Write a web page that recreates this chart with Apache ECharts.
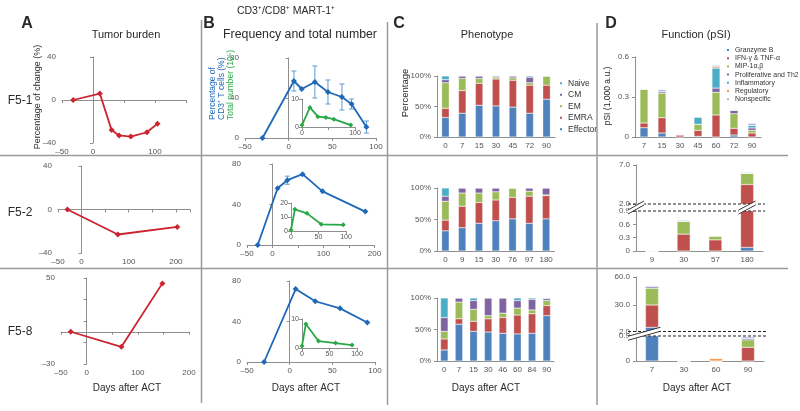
<!DOCTYPE html>
<html>
<head>
<meta charset="utf-8">
<script src="https://cdn.jsdelivr.net/npm/echarts@6.0.0/dist/echarts.min.js"></script>
<style>
html,body{margin:0;padding:0;background:#fff;}
#chart{width:800px;height:411px;}
</style>
</head>
<body>
<div id="chart"></div>
<script>
// ================= DATA =================
// A: tumor burden (% change) vs days after ACT
const a1Days = [-32, 11, 30, 42, 61, 87, 104];
const a1Change = [0, 6, -28, -33, -34, -30, -22];
const a2Days = [-30, 77, 203];
const a2Change = [0, -23, -16];
const a3Days = [-31, 68, 148];
const a3Change = [0, -14, 45];
const aXLabels = [-50, 0, 100, 200];
const a3YLabels = [-30, 50];

// B: frequency (% of CD3+ T cells) and inset total number
const b1Days = [-30, 6, 15, 30, 45, 61, 72, 89];
const b1Freq = [0, 57, 49, 56, 46, 41, 34, 11];
const b1Err = [0, 10, 0, 16, 12, 13, 5, 6];
const b1InDays = [0, 15, 30, 45, 60, 92];
const b1Total = [0.7, 7.0, 3.7, 3.4, 2.8, 0.7];

const b2Days = [-29, 10, 29, 59, 98, 182];
const b2Freq = [0, 56, 64, 70, 53, 33];
const b2Err = [0, 0, 4, 0, 0, 0];
const b2InDays = [0, 7, 29, 55, 95];
const b2Total = [0.7, 15.5, 12.6, 4.8, 4.4];

const b3Days = [-30, 7, 30, 59, 91];
const b3Freq = [0, 72, 60, 53, 39];
const b3Err = [0, 0, 0, 0, 0];
const b3InDays = [0, 7, 30, 61, 91];
const b3Total = [0.7, 8.3, 2.4, 1.7, 1.0];

// C: phenotype (%), stacked
const cNames = ['Effector', 'EMRA', 'EM', 'CM', 'Naive'];
const c1Days = ['0', '7', '15', '30', '45', '72', '90'];
const c1Effector = [32, 39, 52, 51, 49, 39, 62];
const c1EMRA = [15, 37, 36, 44, 44, 46, 23];
const c1EM = [42, 20, 8, 3, 4, 4, 15];
const c1CM = [5, 4, 4, 2, 3, 9, 0];
const c1Naive = [6, 0, 0, 0, 0, 2, 0];

const c2Days = ['0', '9', '15', '30', '76', '97', '180'];
const c2Effector = [32, 37, 44, 48, 51, 44, 51];
const c2EMRA = [17, 34, 33, 33, 34, 43, 37];
const c2EM = [30, 21, 15, 13, 15, 8, 1];
const c2CM = [8, 8, 8, 6, 0, 5, 11];
const c2Naive = [13, 0, 0, 0, 0, 0, 0];

const c3Days = ['0', '7', '15', '30', '46', '60', '84', '90'];
const c3Effector = [17.5, 58.5, 47, 46, 44, 43, 44, 72];
const c3EMRA = [17.5, 8.5, 16, 21, 25, 30, 31, 16];
const c3EM = [12, 26.5, 19, 5, 7, 11, 6, 8];
const c3CM = [22, 6.5, 14, 28, 24, 12, 17, 3];
const c3Naive = [31, 0, 4, 0, 0, 4, 2, 1];

// D: function (pSI, 1,000 a.u.), stacked
const dNames = ['Granzyme B', 'IFN-\u03b3 & TNF-\u03b1', 'MIP-1\u03b1,\u03b2', 'Proliferative and Th2', 'Inflammatory', 'Regulatory', 'Nonspecific'];
const d1Days = ['7', '15', '30', '45', '60', '72', '90'];
const d1Granzyme = [0.07, 0.03, 0, 0.005, 0, 0.015, 0];
const d1IFN = [0.035, 0.115, 0.014, 0.045, 0.165, 0.05, 0.03];
const d1MIP = [0.255, 0.183, 0.006, 0.045, 0.17, 0.11, 0.02];
const d1Prolif = [0, 0.012, 0, 0, 0.032, 0.025, 0.018];
const d1Inflam = [0, 0, 0, 0.055, 0.15, 0, 0.02];
const d1Regul = [0, 0, 0, 0, 0.01, 0, 0];
const d1Nonspec = [0, 0.015, 0.003, 0, 0.01, 0.005, 0.015];

const d2Days = ['9', '30', '57', '180'];
const d2Granzyme = [0, 0, 0, 0.08];
const d2IFN = [0, 0.38, 0.25, 4.42];
const d2MIP = [0, 0.29, 0.09, 1.45];
const d2Prolif = [0, 0, 0, 0];
const d2Inflam = [0, 0, 0, 0];
const d2Regul = [0, 0, 0, 0];
const d2Nonspec = [0, 0.02, 0, 0.1];

const d3Days = ['7', '30', '60', '90'];
const d3Granzyme = [6.5, 0, 0, 0];
const d3IFN = [23.7, 0, 0, 0.49];
const d3MIP = [17.8, 0, 0, 0.27];
const d3Prolif = [1.7, 0, 0, 0.05];
const d3Inflam = [0, 0, 0, 0];
const d3Regul = [0, 0, 0.09, 0];
const d3Nonspec = [1.0, 0, 0, 0.06];
const d2UpperTicks = [2, 7];
const d3UpperTicks = [2, 30, 60];
const dLowerMax = 0.9;

// ================= STYLE =================
const FONT = '"Liberation Sans", Arial, Helvetica, sans-serif';
const AX = '#8f8f8f', LAB = '#555555', TXT = '#2a2a2a';
const RED = '#cc2330', BLUE = '#1f68b8', GREEN = '#2aa847', ERR = '#5b9bd5';
const cColors = {Effector: '#4f81bd', EMRA: '#c0504d', EM: '#9bbb59', CM: '#8064a2', Naive: '#4bacc6'};
const dColors = ['#4f81bd', '#c0504d', '#9bbb59', '#8064a2', '#4bacc6', '#f79646', '#aab4e0'];

const dash = v => String(v).replace('-', '\u2013');
const dFmt = v => (Math.abs(v) < 1e-9 ? '0' : (Math.round(v * 10) / 10).toFixed(1));

const grids = [
  {left: 62, top: 57, width: 124, height: 86},     // 0 A1
  {left: 58, top: 166, width: 132, height: 87},    // 1 A2
  {left: 61, top: 278, width: 128, height: 86},    // 2 A3
  {left: 245, top: 58, width: 131, height: 80},    // 3 B1
  {left: 302, top: 99, width: 53, height: 28},     // 4 B1 inset
  {left: 247, top: 164, width: 127.5, height: 81}, // 5 B2
  {left: 291, top: 203, width: 55, height: 28},    // 6 B2 inset
  {left: 247, top: 281, width: 128, height: 81},   // 7 B3
  {left: 302, top: 319, width: 55, height: 29},    // 8 B3 inset
  {left: 437, top: 76, width: 118, height: 61},    // 9 C1
  {left: 437, top: 188, width: 117.5, height: 63}, // 10 C2
  {left: 437, top: 298, width: 117, height: 63},   // 11 C3
  {left: 635, top: 57, width: 126, height: 80},    // 12 D1
  {left: 636, top: 211, width: 127, height: 40},   // 13 D2 lower
  {left: 636, top: 165, width: 127, height: 39},   // 14 D2 upper
  {left: 636, top: 336, width: 128, height: 25},   // 15 D3 lower
  {left: 636, top: 277, width: 128, height: 54.5}  // 16 D3 upper
];

function valAxis(gi, min, max, interval, o) {
  o = o || {};
  const ax = {
    type: 'value', gridIndex: gi, min: min, max: max,
    axisLine: {show: true, onZero: true, lineStyle: {color: AX, width: 1}},
    axisTick: {show: true, length: 3, lineStyle: {color: AX}},
    splitLine: {show: false},
    axisLabel: {fontSize: o.fs || 8, color: LAB, margin: o.margin || 4, fontFamily: FONT,
      showMinLabel: true, showMaxLabel: true, formatter: o.fmt || dash}
  };
  if (interval != null) ax.interval = interval;
  if (o.custom) { ax.axisLabel.customValues = o.custom; ax.axisTick.customValues = o.custom; }
  return ax;
}
function catAxis(gi, data, show) {
  return {
    type: 'category', gridIndex: gi, data: data, show: show !== false,
    axisLine: {lineStyle: {color: AX, width: 1}},
    axisTick: {length: 3, lineStyle: {color: AX}},
    axisLabel: {fontSize: 8, color: LAB, margin: 5, interval: 0, fontFamily: FONT}
  };
}
const inFmt1 = v => (v === 50 ? '' : String(v));
const aFmt = v => (aXLabels.indexOf(v) >= 0 ? dash(v) : '');

const xAxis = [
  valAxis(0, -50, 150, 50, {fmt: aFmt, margin: 5}),
  valAxis(1, -50, 230, 50, {fmt: aFmt, margin: 5}),
  valAxis(2, -50, 200, 50, {fmt: aFmt, margin: 5}),
  valAxis(3, -50, 100, 50, {margin: 5}),
  valAxis(4, 0, 100, 50, {fs: 7, margin: 3, fmt: inFmt1}),
  valAxis(5, -50, 200, 50, {fmt: aFmt, margin: 5}),
  valAxis(6, 0, 100, 50, {fs: 7, margin: 3}),
  valAxis(7, -50, 100, 50, {margin: 5}),
  valAxis(8, 0, 100, 50, {fs: 7, margin: 3}),
  catAxis(9, c1Days), catAxis(10, c2Days), catAxis(11, c3Days),
  catAxis(12, d1Days), catAxis(13, d2Days), catAxis(14, d2Days, false),
  catAxis(15, d3Days), catAxis(16, d3Days, false)
];
const pct = v => v + '%';
const yAxis = [
  valAxis(0, -40, 40, 40, {margin: 6}),
  valAxis(1, -40, 40, 40, {margin: 6}),
  valAxis(2, -30, 50, 20, {margin: 6, fmt: v => (a3YLabels.indexOf(v) >= 0 ? dash(v) : '')}),
  valAxis(3, 0, 80, 40, {margin: 6}),
  valAxis(4, 0, 10, 10, {fs: 7, margin: 3}),
  valAxis(5, 0, 80, 40, {margin: 6}),
  valAxis(6, 0, 20, 10, {fs: 7, margin: 3}),
  valAxis(7, 0, 80, 40, {margin: 6}),
  valAxis(8, 0, 10, 10, {fs: 7, margin: 3}),
  valAxis(9, 0, 100, 50, {fmt: pct, margin: 6}),
  valAxis(10, 0, 100, 50, {fmt: pct, margin: 6}),
  valAxis(11, 0, 100, 50, {fmt: pct, margin: 6}),
  valAxis(12, 0, 0.6, 0.3, {fmt: dFmt, margin: 6}),
  valAxis(13, 0, dLowerMax, 0.3, {fmt: dFmt, margin: 6}),
  valAxis(14, 2, 7, null, {fmt: v => v.toFixed(1), margin: 6, custom: d2UpperTicks}),
  valAxis(15, 0, dLowerMax, null, {fmt: dFmt, margin: 6, custom: [0, dLowerMax]}),
  valAxis(16, 2, 60, null, {fmt: v => v.toFixed(1), margin: 6, custom: d3UpperTicks})
];

const zip = (a, b) => a.map((d, k) => [d, b[k]]);
function lineSeries(gi, xs, ys, color, size) {
  return {type: 'line', xAxisIndex: gi, yAxisIndex: gi, data: zip(xs, ys), color: color,
    symbol: 'diamond', symbolSize: size || 6, showSymbol: true,
    lineStyle: {color: color, width: 1.8}, itemStyle: {color: color}, z: 3, silent: true};
}
function errSeries(gi, xs, ys, es) {
  return {type: 'custom', xAxisIndex: gi, yAxisIndex: gi, z: 2, silent: true,
    data: xs.map((d, k) => [d, ys[k], es[k]]),
    encode: {x: 0, y: 1},
    renderItem: function (params, api) {
      const e = api.value(2);
      if (!e) return null;
      const x = api.value(0), y = api.value(1);
      const hi = api.coord([x, y + e]), lo = api.coord([x, y - e]);
      const w = 2.5, st = {stroke: ERR, lineWidth: 1};
      return {type: 'group', children: [
        {type: 'line', shape: {x1: hi[0], y1: hi[1], x2: lo[0], y2: lo[1]}, style: st},
        {type: 'line', shape: {x1: hi[0] - w, y1: hi[1], x2: hi[0] + w, y2: hi[1]}, style: st},
        {type: 'line', shape: {x1: lo[0] - w, y1: lo[1], x2: lo[0] + w, y2: lo[1]}, style: st}
      ]};
    }};
}
function cStack(gi, arrs, stack) {
  return arrs.map((arr, k) => ({type: 'bar', name: cNames[k], xAxisIndex: gi, yAxisIndex: gi, stack: stack,
    data: arr, barWidth: 7.5, silent: true,
    itemStyle: {color: cColors[cNames[k]], borderColor: '#fff', borderWidth: 0.35}}));
}
function dStack(gi, arrs, stack, bw) {
  return arrs.map((arr, k) => ({type: 'bar', name: dNames[k], xAxisIndex: gi, yAxisIndex: gi, stack: stack,
    data: arr, barWidth: bw, clip: true, silent: true,
    itemStyle: {color: dColors[k], borderColor: '#fff', borderWidth: 0.35}}));
}
const d2Arrs = [d2Granzyme, d2IFN, d2MIP, d2Prolif, d2Inflam, d2Regul, d2Nonspec];
const d3Arrs = [d3Granzyme, d3IFN, d3MIP, d3Prolif, d3Inflam, d3Regul, d3Nonspec];

const series = [].concat(
  [lineSeries(0, a1Days, a1Change, RED), lineSeries(1, a2Days, a2Change, RED), lineSeries(2, a3Days, a3Change, RED)],
  [errSeries(3, b1Days, b1Freq, b1Err), lineSeries(3, b1Days, b1Freq, BLUE), lineSeries(4, b1InDays, b1Total, GREEN, 5)],
  [errSeries(5, b2Days, b2Freq, b2Err), lineSeries(5, b2Days, b2Freq, BLUE), lineSeries(6, b2InDays, b2Total, GREEN, 5)],
  [errSeries(7, b3Days, b3Freq, b3Err), lineSeries(7, b3Days, b3Freq, BLUE), lineSeries(8, b3InDays, b3Total, GREEN, 5)],
  cStack(9, [c1Effector, c1EMRA, c1EM, c1CM, c1Naive], 'c1'),
  cStack(10, [c2Effector, c2EMRA, c2EM, c2CM, c2Naive], 'c2'),
  cStack(11, [c3Effector, c3EMRA, c3EM, c3CM, c3Naive], 'c3'),
  dStack(12, [d1Granzyme, d1IFN, d1MIP, d1Prolif, d1Inflam, d1Regul, d1Nonspec], 'd1', 8),
  dStack(13, d2Arrs, 'd2l', 13), dStack(14, d2Arrs, 'd2u', 13),
  dStack(15, d3Arrs, 'd3l', 13), dStack(16, d3Arrs, 'd3u', 13)
);

const legendBase = {orient: 'vertical', icon: 'rect', padding: 0, selectedMode: false, itemWidth: 4, itemHeight: 4};
const option = {
  animation: false,
  backgroundColor: '#fff',
  textStyle: {fontFamily: FONT},
  grid: grids.map(g => Object.assign({containLabel: false}, g)),
  xAxis: xAxis, yAxis: yAxis, series: series,
  legend: [
    Object.assign({}, legendBase, {data: ['Naive', 'CM', 'EM', 'EMRA', 'Effector'], left: 558, top: 78.5, itemGap: 2,
      textStyle: {fontSize: 8.5, lineHeight: 9.5, color: '#333', fontFamily: FONT}}),
    Object.assign({}, legendBase, {data: dNames, left: 725, top: 46, itemGap: 0.2,
      textStyle: {fontSize: 6.9, lineHeight: 8, color: '#333', fontFamily: FONT}})
  ]
};

const chart = echarts.init(document.getElementById('chart'), null, {renderer: 'canvas'});
chart.setOption(option);

// ================= TEXT & DECORATION =================
function txt(t, x, y, size, o) {
  o = o || {};
  return {type: 'text', x: x, y: y, rotation: o.rot || 0, z: 100, silent: true,
    style: {text: t, fill: o.color || TXT, fontSize: size, fontFamily: FONT, fontWeight: o.bold ? 'bold' : 'normal',
      align: o.align || 'center', verticalAlign: 'middle'}};
}
function hline(x1, x2, y, o) {
  o = o || {};
  return {type: 'line', z: 100, silent: true, shape: {x1: x1, y1: y, x2: x2, y2: y},
    style: {stroke: o.color || '#9a9a9a', lineWidth: o.w || 1.5, lineDash: o.dash || null}};
}
function vline(x, y1, y2) {
  return {type: 'line', z: 100, silent: true, shape: {x1: x, y1: y1, x2: x, y2: y2}, style: {stroke: '#9a9a9a', lineWidth: 1.5}};
}
const R = Math.PI / 2;
const gfx = [
  txt('CD3\u207a/CD8\u207a MART-1\u207a', 286, 11, 10.5),
  txt('A', 27, 24, 16, {bold: true}), txt('B', 209, 24, 16, {bold: true}),
  txt('C', 399, 24, 16, {bold: true}), txt('D', 611, 24, 16, {bold: true}),
  txt('Tumor burden', 126, 35, 11), txt('Frequency and total number', 300, 35, 12.3),
  txt('Phenotype', 487, 35, 11), txt('Function (pSI)', 696, 35, 11),
  txt('F5-1', 20, 101, 12), txt('F5-2', 20, 213, 12), txt('F5-8', 20, 332, 12),
  txt('Days after ACT', 127, 388, 10), txt('Days after ACT', 306, 388, 10),
  txt('Days after ACT', 486, 388, 10), txt('Days after ACT', 697, 388, 10),
  txt('Percentage of change (%)', 38, 97, 9, {rot: R}),
  txt('Percentage of', 213, 120, 8.5, {rot: R, align: 'left', color: BLUE}),
  txt('CD3\u207a T cells (%)', 222, 120, 8.5, {rot: R, align: 'left', color: BLUE}),
  txt('Total number (10\u2075)', 231, 120, 8.5, {rot: R, align: 'left', color: GREEN}),
  txt('Percentage', 405, 93, 9.5, {rot: R}),
  txt('pSI (1,000 a.u.)', 608, 96, 8.5, {rot: R}),
  hline(0, 788, 155.5), hline(0, 788, 268.5),
  vline(201.5, 20, 403), vline(387.5, 22, 405), vline(597, 23, 405)
];

// axis breaks for the split D panels (rows 2 & 3)
function breakDeco(lowGi, upGi, cats, arrs, bw) {
  const yU = chart.convertToPixel({yAxisIndex: upGi}, yAxis[upGi].min);
  const yL = chart.convertToPixel({yAxisIndex: lowGi}, dLowerMax);
  const g = grids[lowGi];
  const ax = g.left, right = g.left + g.width;
  gfx.push(hline(ax - 8, right + 2, yU, {color: '#222', w: 1, dash: [3, 2]}));
  gfx.push(hline(ax - 8, right + 2, yL, {color: '#222', w: 1, dash: [3, 2]}));
  let ivs = [[ax - 8, ax + 8]];
  cats.forEach((c, i) => {
    const tot = arrs.reduce((s, a) => s + a[i], 0);
    if (tot > dLowerMax) {
      const cx = chart.convertToPixel({xAxisIndex: lowGi}, c);
      ivs.push([cx - bw / 2 - 2, cx + bw / 2 + 2]);
    }
  });
  ivs.sort((p, q) => p[0] - q[0]);
  const merged = [];
  ivs.forEach(iv => {
    const last = merged[merged.length - 1];
    if (last && iv[0] <= last[1] + 3) last[1] = Math.max(last[1], iv[1]); else merged.push(iv.slice());
  });
  const ym = (yU + yL) / 2, rise = 4.5, h = 2;
  merged.forEach(([x0, x1]) => {
    gfx.push({type: 'polygon', z: 101, silent: true,
      shape: {points: [[x0, ym + rise + h], [x1, ym - rise + h], [x1, ym - rise - h], [x0, ym + rise - h]]},
      style: {fill: '#fff', stroke: null}});
    [h, -h].forEach(o => gfx.push({type: 'line', z: 102, silent: true,
      shape: {x1: x0, y1: ym + rise + o, x2: x1, y2: ym - rise + o}, style: {stroke: '#222', lineWidth: 0.9}}));
  });
}
breakDeco(13, 14, d2Days, d2Arrs, 13);
breakDeco(15, 16, d3Days, d3Arrs, 13);

chart.setOption({graphic: gfx});
</script>
</body>
</html>
